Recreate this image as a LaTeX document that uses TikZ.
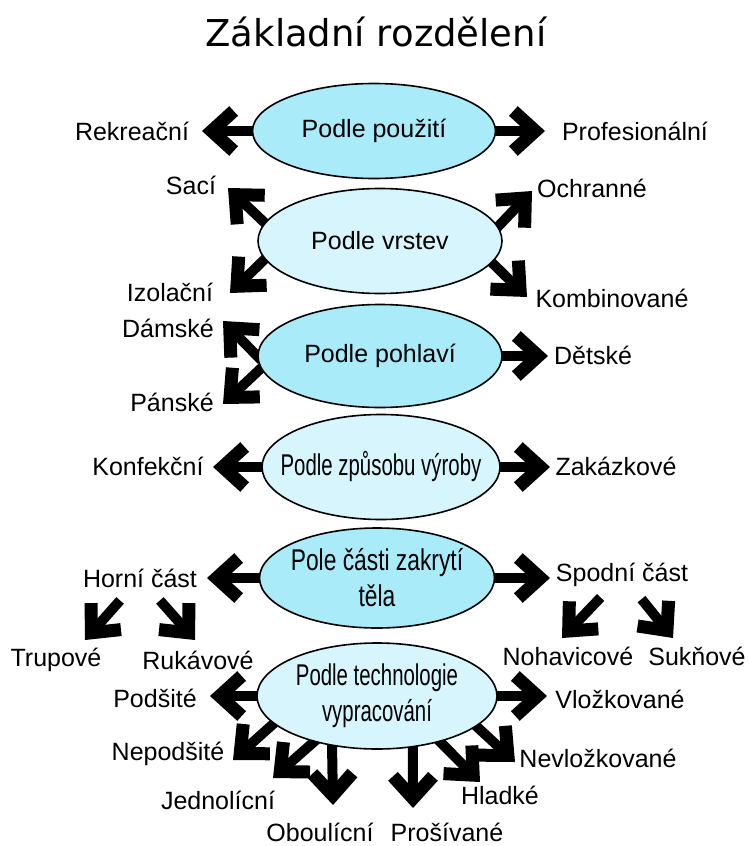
\documentclass[tikz,border=0pt]{standalone}
\usepackage{fontspec}
\setmainfont{Liberation Sans}
\newfontfamily\titlefont{DejaVu Sans}
\newfontfamily\condfont[FakeStretch=0.68]{Liberation Sans}
\newfontfamily\semicondfont[FakeStretch=0.76]{Liberation Sans}
\usetikzlibrary{shapes.geometric,arrows.meta,backgrounds}

\definecolor{catdark}{RGB}{170,235,250}
\definecolor{catlight}{RGB}{214,245,253}

\tikzset{
	cat/.style={ellipse,draw=black,line width=1.6pt,inner sep=0pt},
	cattext/.style={font=\fontsize{25}{30}\selectfont,align=center},
	condtext/.style={font=\condfont\fontsize{30}{36}\selectfont,align=center},
	leaf/.style={font=\fontsize{25}{30}\selectfont,inner sep=0pt},
	bigarrow/.style={line width=10pt,-{Straight Barb[length=22pt,width=40pt,line width=3pt 1,sharp]},shorten <=-6pt}
}

\begin{document}
\begin{tikzpicture}[x=1pt,y=-1pt]
	\useasboundingbox (0,0) rectangle (749,846);
	\node[font=\titlefont\fontsize{37}{44}\selectfont] (title) at (376,32) {Základní rozdělení};

	% kategorie
	\node[cat,fill=catdark,minimum width=243pt,minimum height=95pt,label={[cattext]center:Podle použití}] (pouziti) at (374,131) {};
	\node[cat,fill=catlight,minimum width=244pt,minimum height=105pt,label={[cattext]center:Podle vrstev}] (vrstvy) at (380,241) {};
	\node[cat,fill=catdark,minimum width=244pt,minimum height=103pt,label={[cattext]center:Podle pohlaví}] (pohlavi) at (380,356) {};
	\node[cat,fill=catlight,minimum width=238pt,minimum height=105pt,label={[condtext]center:Podle způsobu výroby}] (zpusob) at (381,467) {};
	\node[cat,fill=catdark,minimum width=235pt,minimum height=100pt,label={[condtext,font=\semicondfont\fontsize{30}{36}\selectfont]center:Pole části zakrytí\\těla}] (zakryti) at (377,578) {};
	\node[cat,fill=catlight,minimum width=240pt,minimum height=106pt,label={[condtext]center:Podle technologie\\vypracování}] (technologie) at (377,696) {};

	% popisky
	\node[leaf] (rekreacni) at (132,131) {Rekreační};
	\node[leaf] (profesionalni) at (635,131) {Profesionální};
	\node[leaf] (saci) at (191,185) {Sací};
	\node[leaf] (ochranne) at (592,188) {Ochranné};
	\node[leaf] (izolacni) at (170,292) {Izolační};
	\node[leaf] (kombinovane) at (612,298) {Kombinované};
	\node[leaf] (damske) at (168,328) {Dámské};
	\node[leaf] (panske) at (172,402) {Pánské};
	\node[leaf] (detske) at (593,355) {Dětské};
	\node[leaf] (konfekcni) at (148,466) {Konfekční};
	\node[leaf] (zakazkove) at (616,466) {Zakázkové};
	\node[leaf] (horni) at (140,578) {Horní část};
	\node[leaf] (spodni) at (622,575) {Spodní část};
	\node[leaf] (trupove) at (56,660) {Trupové};
	\node[leaf] (rukavove) at (198,660) {Rukávové};
	\node[leaf] (nohavicove) at (568,656) {Nohavicové};
	\node[leaf] (suknove) at (697,656) {Sukňové};
	\node[leaf] (podsite) at (155,698) {Podšité};
	\node[leaf] (vlozkovane) at (620,699) {Vložkované};
	\node[leaf] (nepodsite) at (168,754) {Nepodšité};
	\node[leaf] (nevlozkovane) at (598,758) {Nevložkované};
	\node[leaf] (jednolicni) at (218,800) {Jednolícní};
	\node[leaf] (hladke) at (500,795) {Hladké};
	\node[leaf] (oboulicni) at (320,832) {Oboulícní};
	\node[leaf] (prosivane) at (447,832) {Prošívané};

	% hroty sipek
	\coordinate (tRek) at (202,131);
	\coordinate (tProf) at (545,131);
	\coordinate (tSaci) at (228,188);
	\coordinate (tIzo) at (230,293);
	\coordinate (tOchr) at (532,191);
	\coordinate (tKomb) at (527,297);
	\coordinate (tDam) at (223,321);
	\coordinate (tPan) at (223,404);
	\coordinate (tDet) at (548,356);
	\coordinate (tKonf) at (213,467);
	\coordinate (tZak) at (550,467);
	\coordinate (tHorni) at (207,578);
	\coordinate (tSpodni) at (550,578);
	\coordinate (tTrup) at (85,640);
	\coordinate (tRuk) at (195,640);
	\coordinate (tNoh) at (562,638);
	\coordinate (tSuk) at (673,638);
	\coordinate (tPods) at (210,696);
	\coordinate (tVloz) at (547,696);
	\coordinate (tNepods) at (233,760);
	\coordinate (tJedn) at (273,778);
	\coordinate (tObou) at (333,805);
	\coordinate (tPros) at (413,808);
	\coordinate (tHlad) at (480,782);
	\coordinate (tNevl) at (515,762);

	\begin{scope}[on background layer]
		\draw[bigarrow] (pouziti.west) -- (tRek);
		\draw[bigarrow] (pouziti.east) -- (tProf);
		\draw[bigarrow] (vrstvy.171) -- (tSaci);
		\draw[bigarrow] (vrstvy.189) -- (tIzo);
		\draw[bigarrow] (vrstvy.7) -- (tOchr);
		\draw[bigarrow] (vrstvy.349) -- (tKomb);
		\draw[bigarrow] (pohlavi.180) -- (tDam);
		\draw[bigarrow] (pohlavi.186) -- (tPan);
		\draw[bigarrow] (pohlavi.east) -- (tDet);
		\draw[bigarrow] (zpusob.west) -- (tKonf);
		\draw[bigarrow] (zpusob.east) -- (tZak);
		\draw[bigarrow] (zakryti.west) -- (tHorni);
		\draw[bigarrow] (zakryti.east) -- (tSpodni);
		\draw[bigarrow,shorten <=30pt] (horni.center) -- (tTrup);
		\draw[bigarrow,shorten <=30pt] (horni.center) -- (tRuk);
		\draw[bigarrow,shorten <=31pt] (spodni.center) -- (tNoh);
		\draw[bigarrow,shorten <=31pt] (spodni.center) -- (tSuk);
		\draw[bigarrow] (technologie.west) -- (tPods);
		\draw[bigarrow] (technologie.east) -- (tVloz);
		\draw[bigarrow] (technologie.195) -- (tNepods);
		\draw[bigarrow] (technologie.216) -- (tJedn);
		\draw[bigarrow] (technologie.228) -- (tObou);
		\draw[bigarrow] (technologie.305.4) -- (tPros);
		\draw[bigarrow] (technologie.324.5) -- (tHlad);
		\draw[bigarrow] (technologie.343.8) -- (tNevl);
	\end{scope}
\end{tikzpicture}
\end{document}
